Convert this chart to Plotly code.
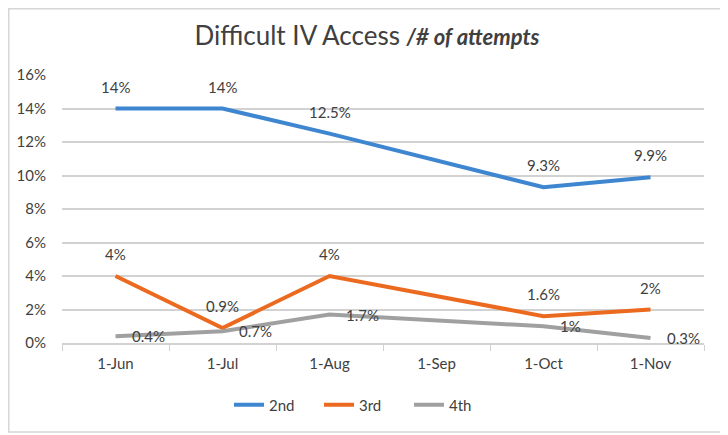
import plotly.graph_objects as go

categories = ["1-Jun", "1-Jul", "1-Aug", "1-Sep", "1-Oct", "1-Nov"]
second = [14, 14, 12.5, None, 9.3, 9.9]
third = [4, 0.9, 4, None, 1.6, 2]
fourth = [0.4, 0.7, 1.7, None, 1, 0.3]
y_ticks = [0, 2, 4, 6, 8, 10, 12, 14, 16]

FONT = "Lato"
TXT = "#404040"
GRID = "#D2D2D2"
series = [
    ("2nd", second, "#3F86D0", "top"),
    ("3rd", third, "#EB6A1F", "top"),
    ("4th", fourth, "#A0A0A0", "right"),
]

OFF = 8  # page body margin of the browser
W, H = 728 - OFF, 435 - OFF
PL, PR, PT, PB = 62 - OFF, 704 - OFF, 75 - OFF, 343 - OFF  # plot area in figure pixels
PW, PH = PR - PL, PB - PT

fig = go.Figure()
annotations = []
for name, vals, color, pos in series:
    fig.add_trace(go.Scatter(
        x=categories, y=vals, name=name, mode="lines",
        line=dict(color=color, width=4), connectgaps=True,
    ))
    for c, v in zip(categories, vals):
        if v is None:
            continue
        a = dict(x=c, y=v, xref="x", yref="y", text=f"{v:g}%", showarrow=False,
                 font=dict(family=FONT, size=15, color=TXT))
        if pos == "top":
            a.update(yanchor="middle", xanchor="center", yshift=22)
        else:
            a.update(yanchor="middle", xanchor="left", xshift=14)
        annotations.append(a)

# chart frame
shapes = [dict(type="rect", xref="paper", yref="paper",
               x0=(0.75 - PL) / PW, x1=(726 - OFF - PL) / PW,
               y0=(PB - (432 - OFF)) / PH, y1=(PB - 0.75) / PH,
               line=dict(color="#D6D6D6", width=1.5), layer="below")]

fig.update_layout(
    width=W, height=H, autosize=False,
    margin=dict(l=PL, r=W - PR, t=PT, b=H - PB, autoexpand=False),
    paper_bgcolor="white", plot_bgcolor="white",
    font=dict(family=FONT, color=TXT, size=15),
    title=dict(
        text="Difficult IV Access <b><i><span style='font-size:22px'>/# of attempts</span></i></b>",
        x=(367 - OFF - PL) / PW, xref="paper", xanchor="center",
        y=1 - (36 - OFF) / H, yref="container", yanchor="middle",
        font=dict(family=FONT, size=26, color=TXT),
    ),
    xaxis=dict(
        type="category", categoryorder="array", categoryarray=categories,
        range=[-0.5, 5.5],
        showgrid=False, showline=True, linecolor=GRID, linewidth=1.5,
        ticks="outside", tickson="boundaries", ticklen=6, tickcolor=GRID,
        ticklabelstandoff=6,
        tickfont=dict(family=FONT, size=15, color=TXT), zeroline=False,
    ),
    yaxis=dict(
        range=[0, 16], tickmode="array", tickvals=y_ticks,
        ticktext=[f"{t}%" for t in y_ticks],
        showgrid=True, gridcolor=GRID, gridwidth=1.5,
        zeroline=False, showline=False, ticks="",
        ticklabelstandoff=15,
        tickfont=dict(family=FONT, size=15, color=TXT),
    ),
    legend=dict(
        orientation="h", entrywidth=45, entrywidthmode="pixels",
        x=(364 - OFF - PL) / PW, xanchor="center", y=-(405 - OFF - PB) / PH, yanchor="middle",
        font=dict(family=FONT, size=15, color=TXT),
    ),
    annotations=annotations,
    shapes=shapes,
)

fig.write_html("out.html")
